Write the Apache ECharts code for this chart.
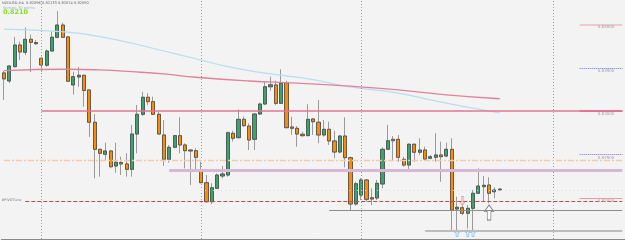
<!DOCTYPE html>
<html>
<head>
<meta charset="utf-8">
<script src="https://cdn.jsdelivr.net/npm/echarts@6/dist/echarts.min.js"></script>
<style>
html,body{margin:0;padding:0;background:#f3f3f3}
#chart{width:625px;height:240px}
</style>
</head>
<body>
<div id="chart"></div>
<script>
// NZDUSD H4, each candle is [open, close, low, high]
const candles = [
  [0.83441,0.83372,0.83130,0.83464],[0.83348,0.83521,0.83325,0.83532],[0.83513,0.83762,0.83505,0.83855],
  [0.83762,0.83682,0.83590,0.83800],[0.83678,0.83828,0.83647,0.83964],[0.83828,0.83793,0.83452,0.83883],
  [0.83791,0.83777,0.83762,0.83820],[0.83609,0.83532,0.83452,0.83628],[0.83529,0.83693,0.83513,0.83711],
  [0.83693,0.83851,0.83685,0.83915],[0.83851,0.83992,0.83839,0.84153],[0.83992,0.83851,0.83843,0.84019],
  [0.83855,0.83345,0.83337,0.83860],[0.83302,0.83398,0.83193,0.83455],[0.83394,0.83414,0.83282,0.83509],
  [0.83414,0.83239,0.83052,0.83417],[0.83245,0.82873,0.82704,0.83250],[0.82873,0.82562,0.82228,0.82968],
  [0.82562,0.82516,0.82247,0.82566],[0.82505,0.82543,0.82439,0.82638],[0.82543,0.82362,0.82344,0.82554],
  [0.82370,0.82413,0.82293,0.82638],[0.82410,0.82393,0.82266,0.82477],[0.82393,0.82332,0.82247,0.82516],
  [0.82332,0.82738,0.82247,0.82842],[0.82738,0.82965,0.82516,0.83072],[0.82965,0.83161,0.82945,0.83225],
  [0.83161,0.83110,0.83072,0.83207],[0.83110,0.82965,0.82957,0.83167],[0.82965,0.82738,0.82727,0.82995],
  [0.82727,0.82447,0.82370,0.82899],[0.82447,0.82585,0.82408,0.82612],[0.82585,0.82719,0.82574,0.82727],
  [0.82719,0.82612,0.82516,0.82930],[0.82612,0.82546,0.82344,0.82631],[0.82554,0.82543,0.82151,0.82558],
  [0.82546,0.82470,0.82324,0.82574],[0.82312,0.82178,0.82171,0.82419],[0.82178,0.81959,0.81950,0.82266],
  [0.81959,0.82120,0.81933,0.82171],[0.82113,0.82266,0.82105,0.82284],[0.82255,0.82278,0.82228,0.82370],
  [0.82266,0.82753,0.82247,0.82765],[0.82746,0.82689,0.82650,0.82776],[0.82696,0.82907,0.82689,0.83022],
  [0.82907,0.82834,0.82822,0.82937],[0.82830,0.82669,0.82554,0.82861],[0.82677,0.82968,0.82554,0.82974],
  [0.82968,0.83083,0.82957,0.83098],[0.83083,0.83282,0.83072,0.83340],[0.83282,0.83305,0.83236,0.83398],
  [0.83302,0.83091,0.83072,0.83351],[0.83091,0.83322,0.83089,0.83483],[0.83328,0.82811,0.82804,0.83351],
  [0.82819,0.82804,0.82727,0.82937],[0.82804,0.82738,0.82592,0.82830],[0.82735,0.82719,0.82707,0.82765],
  [0.82719,0.82907,0.82715,0.83080],[0.82911,0.82880,0.82727,0.82919],[0.82873,0.82727,0.82631,0.83130],
  [0.82727,0.82792,0.82707,0.82899],[0.82792,0.82658,0.82612,0.82880],[0.82658,0.82531,0.82459,0.82776],
  [0.82531,0.82715,0.82516,0.82727],[0.82715,0.82466,0.82355,0.82930],[0.82466,0.81933,0.81864,0.82477],
  [0.81933,0.82166,0.81913,0.82189],[0.82036,0.82209,0.81979,0.82228],[0.82209,0.81987,0.81959,0.82220],
  [0.82005,0.81990,0.81921,0.82113],[0.82002,0.82171,0.81979,0.82209],[0.82163,0.82562,0.82113,0.82585],
  [0.82562,0.82661,0.82554,0.82842],[0.82677,0.82661,0.82431,0.82715],[0.82677,0.82470,0.82419,0.82727],
  [0.82447,0.82381,0.82362,0.82477],[0.82381,0.82620,0.82316,0.82631],[0.82620,0.82528,0.82419,0.82631],
  [0.82528,0.82554,0.82497,0.82689],[0.82554,0.82450,0.82439,0.82592],[0.82459,0.82477,0.82447,0.82497],
  [0.82470,0.82497,0.82419,0.82746],[0.82497,0.82477,0.82189,0.82650],[0.82485,0.82562,0.82470,0.82638],
  [0.82562,0.81864,0.81626,0.82689],[0.81875,0.81895,0.81634,0.82017],[0.81890,0.81826,0.81806,0.82017],
  [0.81826,0.81883,0.81653,0.81921],[0.81883,0.82056,0.81634,0.82094],[0.82056,0.82140,0.82048,0.82344],
  [0.82132,0.82148,0.81959,0.82255],[0.82151,0.82056,0.81941,0.82240],[0.82074,0.82094,0.81998,0.82125],
  [0.82096,0.82104,0.82090,0.82112]
]
const slotCount = 117 // candles + empty space on the right

// moving averages, [candle index, price]
const maBlue = [[0,0.83946],[12,0.83910],[18,0.83858],[24,0.83782],[30,0.83693],[36,0.83604],[42,0.83513],
  [49,0.83438],[58,0.83364],[64,0.83290],[75,0.83198],[80,0.83130],[87,0.83047],[93,0.82980]]
const maRed = [[0,0.83467],[12,0.83483],[18,0.83475],[24,0.83455],[30,0.83429],[36,0.83391],[46,0.83348],
  [55,0.83323],[64,0.83291],[74,0.83245],[83,0.83189],[93,0.83144]]

// price levels
const roundLevels = [0.84000, 0.83500, 0.83000, 0.82500, 0.82000]
const roundLabels = ['0.84000', '0.83500', '0.83000', '0.82500', '0.82000']
const levelStart = 108
const mainLevel = 0.83000, mainLevelStart = 7
const dashDotLevel = 0.82431
const zoneLevel = 0.82324, zoneStart = 31
const pivotLevel = 0.81959, pivotStart = 4
const faintLevel = 0.82094, faintStart = 37
const lowLevel = 0.81864, lowStart = 61
const lowestLevel = 0.81622, lowestStart = 79
const weekMarks = [7, 37, 67, 103]

// signal arrows, [candle index, price]
const upArrows = [[85,0.81599],[87,0.81599],[88,0.81599]]
const downArrows = [[86,0.81967]]
const bigArrow = [[91,0.81835]]

const arrowPath = 'path://M5,0 L10,5 L7,5 L7,12 L3,12 L3,5 L0,5 Z'
const lastIdx = slotCount - 1

const chart = echarts.init(document.getElementById('chart'))

const hLine = (price, from, color, width, type) => [
  { coord: [from, price], lineStyle: { color, width, type } },
  { coord: [lastIdx, price] }
]

chart.setOption({
  backgroundColor: '#f3f3f3',
  animation: false,
  grid: { left: 1.3, top: 0, width: 626, height: 239 },
  xAxis: {
    type: 'category',
    data: Array.from({ length: slotCount }, (_, i) => String(i)),
    boundaryGap: true,
    axisLine: { show: true, lineStyle: { color: '#8a8a8a', width: 1 } },
    axisTick: { show: false },
    axisLabel: { show: false },
    splitLine: { show: false }
  },
  yAxis: {
    type: 'value',
    min: 0.8153,
    max: 0.8428,
    show: false,
    splitLine: { show: false }
  },
  graphic: [
    { type: 'text', left: 2, top: 1, style: { text: 'NZDUSD,H4  0.82096 0.82133 0.82074 0.82090', fontSize: 3.6, fill: '#666', fontFamily: 'DejaVu Sans' } },
    { type: 'text', left: 3, top: 6.5, style: { text: 'Spread: 30 points', fontSize: 3.6, fill: '#9fb4e6', fontFamily: 'DejaVu Sans' } },
    { type: 'text', left: 3, top: 8.5, style: { text: '0.8210', fontSize: 6.5, fontWeight: 'bold', fill: '#86e21a', fontFamily: 'DejaVu Sans' } },
    { type: 'text', left: 1.5, top: 198.5, style: { text: '#PIVOTLine', fontSize: 3.4, fill: '#777', fontFamily: 'DejaVu Sans' } }
  ],
  series: [
    {
      name: 'levels',
      type: 'line',
      data: [],
      markLine: {
        silent: true,
        symbol: ['none', 'none'],
        label: { show: false },
        data: [
          ...weekMarks.map(i => ({ xAxis: i, lineStyle: { color: '#9c9c9c', width: 1, type: [1, 2] } })),
          hLine(dashDotLevel, 0, '#f5c9aa', 1.3, [6, 2, 2, 2]),
          hLine(zoneLevel, zoneStart, '#d8b6d8', 3, 'solid'),
          hLine(mainLevel, mainLevelStart, '#e47494', 1.5, 'solid'),
          hLine(faintLevel, faintStart, '#dddddd', 1, [1, 3]),
          hLine(pivotLevel, pivotStart, '#c04a4a', 1.2, [4, 2]),
          hLine(lowLevel, lowStart, '#8d8d8d', 1, 'solid'),
          hLine(lowestLevel, lowestStart, '#bdbdbd', 2, 'solid')
        ]
      }
    },
    {
      name: 'round',
      type: 'line',
      data: [],
      markLine: {
        silent: true,
        symbol: ['none', 'none'],
        label: {
          show: true,
          position: 'insideEndBottom',
          distance: [8, 1],
          fontSize: 4,
          color: '#a0a0a0',
          fontFamily: 'DejaVu Sans',
          formatter: p => roundLabels[roundLevels.indexOf(p.value)]
        },
        data: roundLevels.map((v, k) => {
          const styles = [
            { color: '#f0b8c4', width: 1.5, type: 'solid' },
            { color: '#6f6ff5', width: 1, type: [1, 1] },
            { color: '#e47494', width: 1.8, type: 'solid' },
            { color: '#6f6ff5', width: 1, type: [1, 1] },
            { color: '#eb9aa8', width: 1, type: 'solid' }
          ]
          return [{ coord: [levelStart, v], value: v, lineStyle: styles[k] }, { coord: [lastIdx, v] }]
        })
      }
    },
    {
      name: 'MA slow',
      type: 'line',
      data: maBlue,
      symbol: 'none',
      smooth: true,
      lineStyle: { color: '#b8dcf0', width: 1.2 }
    },
    {
      name: 'MA',
      type: 'line',
      data: maRed,
      symbol: 'none',
      smooth: true,
      lineStyle: { color: '#e4809a', width: 1.3 }
    },
    {
      name: 'wicks',
      type: 'candlestick',
      data: candles,
      barWidth: 3.6,
      itemStyle: { color: '#9a9a9a', color0: '#9a9a9a', borderColor: '#9a9a9a', borderColor0: '#9a9a9a', borderWidth: 1 }
    },
    {
      name: 'bodies',
      type: 'candlestick',
      data: candles.map(c => [c[0], c[1], Math.min(c[0], c[1]), Math.max(c[0], c[1])]),
      barWidth: 3.6,
      itemStyle: { color: '#35a76e', color0: '#ff8a00', borderColor: '#4a4a4a', borderColor0: '#4a4a4a', borderWidth: 0.8 }
    },
    {
      name: 'buy',
      type: 'scatter',
      data: upArrows,
      symbol: arrowPath,
      symbolSize: [5, 7],
      itemStyle: { color: '#f3f3f3', borderColor: '#6fb6f0', borderWidth: 0.8 }
    },
    {
      name: 'sell',
      type: 'scatter',
      data: downArrows,
      symbol: arrowPath,
      symbolRotate: 180,
      symbolSize: [5, 9],
      itemStyle: { color: '#fbe0e0', borderColor: '#ef8e8e', borderWidth: 0.8 }
    },
    {
      name: 'signal',
      type: 'scatter',
      data: bigArrow,
      symbol: arrowPath,
      symbolSize: [9, 15],
      itemStyle: { color: '#ffffff', borderColor: '#555555', borderWidth: 0.8 }
    }
  ]
})
</script>
</body>
</html>
